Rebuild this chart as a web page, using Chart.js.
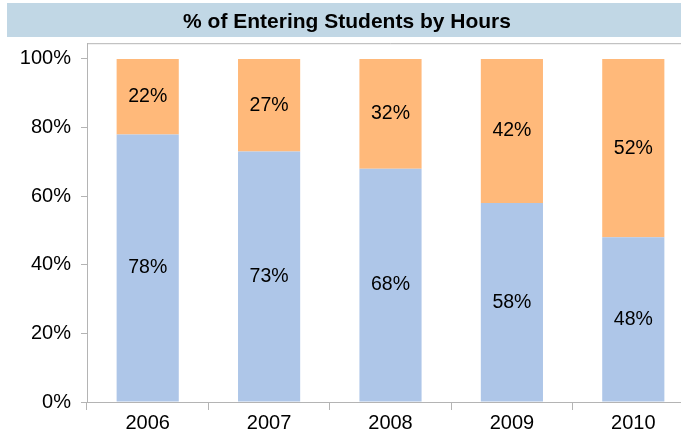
<!DOCTYPE html>
<html>
<head>
    <title>% of Entering Students by Hours</title>
    <script src="https://cdn.jsdelivr.net/npm/chart.js"></script>
    <style>
        body { margin: 0; overflow: hidden; background: #fff; }
    </style>
</head>
<body>
    <canvas id="hoursChart" width="706" height="436"></canvas>
    <script>
        const years = ["2006", "2007", "2008", "2009", "2010"];
        const lowerShare = [78, 73, 68, 58, 48];   // blue part
        const upperShare = [22, 27, 32, 42, 52];   // orange part
        const yTicks = [0, 20, 40, 60, 80, 100];

        const axisGrey = "#b4b4b4";
        const font = "'Liberation Sans', Arial, sans-serif";

        // light blue band behind the title, grey frame round the plot
        const framePlugin = {
            id: "frame",
            beforeDraw(chart) {
                const ctx = chart.ctx;
                ctx.save();
                ctx.fillStyle = "#c1d7e5";
                ctx.fillRect(7, 3, chart.width - 7, 34);
                ctx.restore();
            },
            afterDraw(chart) {
                const a = chart.chartArea;
                const ctx = chart.ctx;
                ctx.save();
                ctx.strokeStyle = axisGrey;
                ctx.lineWidth = 1;
                ctx.beginPath();
                ctx.moveTo(a.left, a.top + 0.5);
                ctx.lineTo(a.right - 0.5, a.top + 0.5);
                ctx.lineTo(a.right - 0.5, a.bottom);
                ctx.stroke();
                ctx.restore();
            }
        };

        // percentage in the middle of each segment
        const segmentLabels = {
            id: "segmentLabels",
            afterDatasetsDraw(chart) {
                const ctx = chart.ctx;
                ctx.save();
                ctx.font = "19.5px " + font;
                ctx.fillStyle = "#000";
                ctx.textAlign = "center";
                ctx.textBaseline = "middle";
                chart.data.datasets.forEach((ds, di) => {
                    chart.getDatasetMeta(di).data.forEach((bar, i) => {
                        ctx.fillText(ds.data[i] + "%", bar.x, (bar.y + bar.base) / 2);
                    });
                });
                ctx.restore();
            }
        };

        new Chart(document.getElementById("hoursChart"), {
            type: "bar",
            data: {
                labels: years,
                datasets: [
                    { data: lowerShare, backgroundColor: "#aec6e8" },
                    { data: upperShare, backgroundColor: "#ffb97a" }
                ]
            },
            options: {
                responsive: false,
                animation: false,
                layout: { padding: { left: 0, right: 12, top: 0, bottom: 0 } },
                datasets: { bar: { barPercentage: 0.512, categoryPercentage: 1 } },
                plugins: {
                    legend: { display: false },
                    tooltip: { enabled: false },
                    title: {
                        display: true,
                        text: "% of Entering Students by Hours",
                        color: "#000",
                        font: { family: font, size: 21, weight: "bold" },
                        padding: { top: 10, bottom: 8 }
                    }
                },
                scales: {
                    x: {
                        stacked: true,
                        grid: { drawOnChartArea: false, tickLength: 8, color: axisGrey },
                        border: { color: axisGrey },
                        ticks: { color: "#000", padding: 1, font: { family: font, size: 20 } },
                        afterFit(scale) { scale.height = 34; }
                    },
                    y: {
                        stacked: true,
                        min: 0,
                        max: 104.6,
                        grid: { drawOnChartArea: false, tickLength: 6, color: axisGrey },
                        border: { color: axisGrey },
                        ticks: {
                            color: "#000",
                            padding: 10,
                            font: { family: font, size: 20 },
                            callback: v => v + "%"
                        },
                        afterBuildTicks(scale) {
                            scale.ticks = yTicks.map(v => ({ value: v }));
                        },
                        afterFit(scale) { scale.width = 87; }
                    }
                }
            },
            plugins: [framePlugin, segmentLabels]
        });
    </script>
</body>
</html>
